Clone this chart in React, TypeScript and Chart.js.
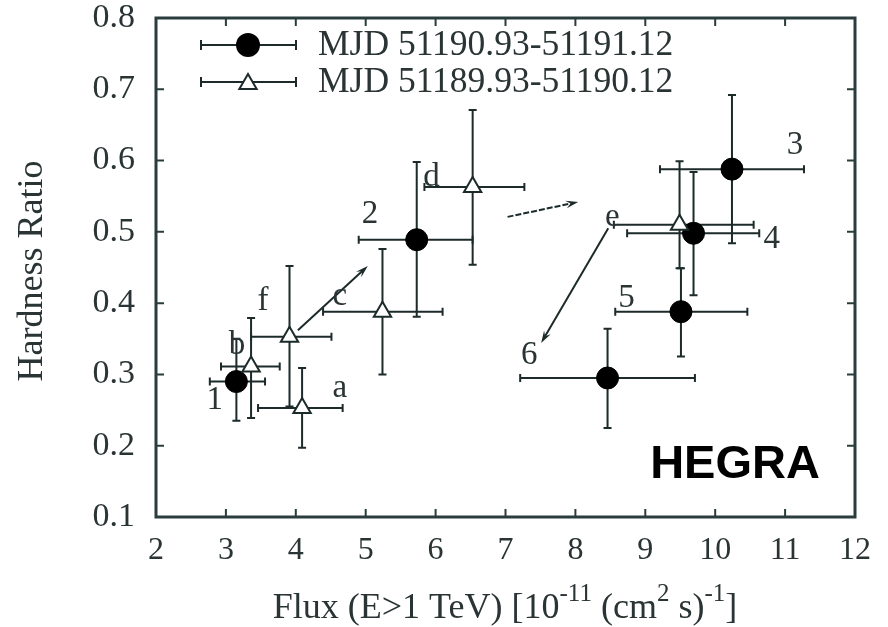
import React, { useEffect, useRef } from 'react';
import { Chart, registerables } from 'chart.js';
Chart.register(...registerables);

// Filled circles: MJD 51190.93-51191.12 (points 1..6)
const circleNames = ['1', '2', '3', '4', '5', '6'];
const circleX = [3.15, 5.73, 10.24, 9.69, 9.51, 8.46];
const circleY = [0.29, 0.489, 0.588, 0.498, 0.388, 0.295];
const circleXLo = [2.77, 4.9, 9.21, 8.74, 8.57, 7.21];
const circleXHi = [3.56, 6.53, 11.27, 10.63, 10.46, 9.71];
const circleYLo = [0.235, 0.381, 0.484, 0.411, 0.325, 0.225];
const circleYHi = [0.35, 0.598, 0.692, 0.584, 0.449, 0.364];

// Open triangles: MJD 51189.93-51190.12 (points a..f)
const triNames = ['a', 'b', 'c', 'd', 'e', 'f'];
const triX = [4.09, 3.36, 5.24, 6.53, 9.49, 3.91];
const triY = [0.253, 0.311, 0.388, 0.563, 0.51, 0.353];
const triXLo = [3.46, 2.93, 4.39, 5.84, 8.55, 3.36];
const triXHi = [4.67, 3.77, 6.1, 7.27, 10.55, 4.51];
const triYLo = [0.197, 0.239, 0.3, 0.454, 0.449, 0.255];
const triYHi = [0.309, 0.379, 0.476, 0.671, 0.599, 0.452];

// Point annotations
const labelText = ['1', 'b', 'f', 'a', 'c', '2', 'd', 'e', '3', '4', '5', '6'];
const labelX = [2.84, 3.16, 3.53, 4.63, 4.63, 5.06, 5.94, 8.53, 11.14, 10.81, 8.73, 7.34];
const labelY = [0.264, 0.341, 0.402, 0.281, 0.409, 0.524, 0.576, 0.52, 0.622, 0.489, 0.407, 0.327];

// Arrows (from -> to)
const arrowFromX = [4.03, 7.03, 8.47];
const arrowFromY = [0.362, 0.521, 0.505];
const arrowToX = [5.03, 8.04, 7.51];
const arrowToY = [0.452, 0.542, 0.344];
const arrowDashed = [false, true, false];

const legendLabels = ['MJD 51190.93-51191.12', 'MJD 51189.93-51190.12'];
const xMin = 2, xMax = 12, yMin = 0.1, yMax = 0.8;

const INK = '#1c2a2a';
const TEXT = '#2a3434';
const SERIF = '"Liberation Serif", "Times New Roman", serif';

function drawTriangle(ctx: CanvasRenderingContext2D, x: number, y: number, r: number) {
  ctx.beginPath();
  let rad = 0;
  ctx.moveTo(x + Math.sin(rad) * r, y - Math.cos(rad) * r);
  rad += (2 * Math.PI) / 3;
  ctx.lineTo(x + Math.sin(rad) * r, y - Math.cos(rad) * r);
  rad += (2 * Math.PI) / 3;
  ctx.lineTo(x + Math.sin(rad) * r, y - Math.cos(rad) * r);
  ctx.closePath();
  ctx.fillStyle = '#ffffff';
  ctx.fill();
  ctx.lineWidth = 2;
  ctx.strokeStyle = INK;
  ctx.stroke();
}

const overlay = {
  id: 'overlay',
  beforeDatasetsDraw(chart: any) {
    const { ctx, scales } = chart;
    const xs = scales.x, ys = scales.y;
    ctx.save();
    ctx.strokeStyle = INK;
    const cap = 4;
    const drawErr = (X: number[], Y: number[], XL: number[], XH: number[], YL: number[], YH: number[], lw: number) => {
      ctx.lineWidth = lw;
      for (let i = 0; i < X.length; i++) {
        const px = xs.getPixelForValue(X[i]);
        const py = ys.getPixelForValue(Y[i]);
        const x1 = xs.getPixelForValue(XL[i]);
        const x2 = xs.getPixelForValue(XH[i]);
        const y1 = ys.getPixelForValue(YL[i]);
        const y2 = ys.getPixelForValue(YH[i]);
        ctx.beginPath();
        ctx.moveTo(x1, py); ctx.lineTo(x2, py);
        ctx.moveTo(x1, py - cap); ctx.lineTo(x1, py + cap);
        ctx.moveTo(x2, py - cap); ctx.lineTo(x2, py + cap);
        ctx.moveTo(px, y1); ctx.lineTo(px, y2);
        ctx.moveTo(px - cap, y1); ctx.lineTo(px + cap, y1);
        ctx.moveTo(px - cap, y2); ctx.lineTo(px + cap, y2);
        ctx.stroke();
      }
    };
    drawErr(triX, triY, triXLo, triXHi, triYLo, triYHi, 2);
    drawErr(circleX, circleY, circleXLo, circleXHi, circleYLo, circleYHi, 2);
    ctx.restore();
  },
  afterDatasetsDraw(chart: any) {
    const { ctx, chartArea: a, scales } = chart;
    const xs = scales.x, ys = scales.y;
    ctx.save();
    // frame
    ctx.strokeStyle = '#2a3c3c';
    ctx.lineWidth = 3;
    ctx.strokeRect(a.left, a.top, a.right - a.left, a.bottom - a.top);
    // inward ticks
    ctx.lineWidth = 2;
    const tl = 8;
    ctx.beginPath();
    for (let v = xMin + 1; v < xMax; v++) {
      const px = xs.getPixelForValue(v);
      ctx.moveTo(px, a.bottom); ctx.lineTo(px, a.bottom - tl);
      ctx.moveTo(px, a.top); ctx.lineTo(px, a.top + tl);
    }
    for (let k = 2; k < 8; k++) {
      const py = ys.getPixelForValue(k / 10);
      ctx.moveTo(a.left, py); ctx.lineTo(a.left + tl, py);
      ctx.moveTo(a.right, py); ctx.lineTo(a.right - tl, py);
    }
    ctx.stroke();

    // arrows
    ctx.strokeStyle = INK;
    ctx.fillStyle = INK;
    for (let i = 0; i < arrowFromX.length; i++) {
      const x1 = xs.getPixelForValue(arrowFromX[i]);
      const y1 = ys.getPixelForValue(arrowFromY[i]);
      const x2 = xs.getPixelForValue(arrowToX[i]);
      const y2 = ys.getPixelForValue(arrowToY[i]);
      const ang = Math.atan2(y2 - y1, x2 - x1);
      const hl = 13, hw = 0.3;
      ctx.lineWidth = 2;
      ctx.setLineDash(arrowDashed[i] ? [6, 2] : []);
      ctx.beginPath();
      ctx.moveTo(x1, y1);
      ctx.lineTo(x2 - Math.cos(ang) * hl * 0.6, y2 - Math.sin(ang) * hl * 0.6);
      ctx.stroke();
      ctx.setLineDash([]);
      ctx.beginPath();
      ctx.moveTo(x2, y2);
      ctx.lineTo(x2 - hl * Math.cos(ang - hw), y2 - hl * Math.sin(ang - hw));
      ctx.lineTo(x2 - hl * 0.6 * Math.cos(ang), y2 - hl * 0.6 * Math.sin(ang));
      ctx.lineTo(x2 - hl * Math.cos(ang + hw), y2 - hl * Math.sin(ang + hw));
      ctx.closePath();
      ctx.fill();
    }

    // point labels
    ctx.fillStyle = TEXT;
    ctx.font = `33px ${SERIF}`;
    ctx.textAlign = 'center';
    ctx.textBaseline = 'middle';
    for (let i = 0; i < labelText.length; i++) {
      ctx.fillText(labelText[i], xs.getPixelForValue(labelX[i]), ys.getPixelForValue(labelY[i]));
    }

    // legend
    const rowsY = [45, 82];
    for (let r = 0; r < 2; r++) {
      const ly = rowsY[r];
      ctx.strokeStyle = INK;
      ctx.lineWidth = 2;
      ctx.beginPath();
      ctx.moveTo(201, ly); ctx.lineTo(296, ly);
      ctx.moveTo(201, ly - 5); ctx.lineTo(201, ly + 5);
      ctx.moveTo(296, ly - 5); ctx.lineTo(296, ly + 5);
      ctx.stroke();
      if (r === 0) {
        ctx.beginPath();
        ctx.arc(248, ly, 12, 0, Math.PI * 2);
        ctx.fillStyle = '#000';
        ctx.fill();
      } else {
        drawTriangle(ctx, 248, ly + 2, 10);
      }
      ctx.fillStyle = TEXT;
      ctx.font = `35.5px ${SERIF}`;
      ctx.textAlign = 'left';
      ctx.textBaseline = 'middle';
      ctx.fillText(legendLabels[r], 318, ly + 1);
    }

    // HEGRA
    ctx.fillStyle = '#000';
    ctx.font = `bold 47px "Liberation Sans", Arial, sans-serif`;
    ctx.textAlign = 'center';
    ctx.textBaseline = 'middle';
    ctx.fillText('HEGRA', 735, 465);

    // y title
    ctx.save();
    ctx.translate(33, 271);
    ctx.rotate(-Math.PI / 2);
    ctx.fillStyle = TEXT;
    ctx.font = `36px ${SERIF}`;
    ctx.textAlign = 'center';
    ctx.textBaseline = 'middle';
    ctx.fillText('Hardness Ratio', 0, 0);
    ctx.restore();

    // x title with superscripts
    const segs: { t: string; sup: boolean }[] = [
      { t: 'Flux (E>1 TeV) [10', sup: false },
      { t: '-11', sup: true },
      { t: ' (cm', sup: false },
      { t: '2', sup: true },
      { t: ' s)', sup: false },
      { t: '-1', sup: true },
      { t: ']', sup: false },
    ];
    const baseFont = `36px ${SERIF}`;
    const supFont = `25px ${SERIF}`;
    let total = 0;
    for (const s of segs) {
      ctx.font = s.sup ? supFont : baseFont;
      total += ctx.measureText(s.t).width;
    }
    let cx = 505 - total / 2;
    const baseY = 618;
    ctx.textAlign = 'left';
    ctx.textBaseline = 'alphabetic';
    ctx.fillStyle = TEXT;
    for (const s of segs) {
      ctx.font = s.sup ? supFont : baseFont;
      ctx.fillText(s.t, cx, s.sup ? baseY - 17 : baseY);
      cx += ctx.measureText(s.t).width;
    }
    ctx.restore();
  },
};

export default function App() {
  const ref = useRef<HTMLCanvasElement>(null);
  useEffect(() => {
    if (!ref.current) return;
    const chart = new Chart(ref.current, {
      type: 'scatter',
      data: {
        datasets: [
          {
            label: legendLabels[1],
            data: triX.map((x, i) => ({ x, y: triY[i] })),
            pointStyle: 'triangle',
            pointRadius: 10,
            backgroundColor: '#ffffff',
            borderColor: INK,
            borderWidth: 2,
          },
          {
            label: legendLabels[0],
            data: circleX.map((x, i) => ({ x, y: circleY[i] })),
            pointStyle: 'circle',
            pointRadius: 11,
            backgroundColor: '#000000',
            borderColor: '#000000',
            borderWidth: 1,
          },
        ],
      },
      options: {
        responsive: false,
        animation: false,
        devicePixelRatio: 1,
        layout: { padding: { top: 18, right: 33, left: 0, bottom: 0 } },
        plugins: { legend: { display: false }, tooltip: { enabled: false } },
        scales: {
          x: {
            type: 'linear',
            min: xMin,
            max: xMax,
            grid: { display: false, drawTicks: false },
            border: { display: false },
            ticks: {
              stepSize: 1,
              padding: 14,
              color: TEXT,
              font: { family: SERIF, size: 32 },
            },
            afterFit: (s: any) => {
              s.height = 110;
              s.paddingLeft = 0; s.paddingRight = 0;
            },
          },
          y: {
            type: 'linear',
            min: yMin,
            max: yMax,
            grid: { display: false, drawTicks: false },
            border: { display: false },
            ticks: {
              stepSize: 0.1,
              padding: 21,
              color: TEXT,
              font: { family: SERIF, size: 34 },
              callback: (v: any) => Number(v).toFixed(1),
            },
            afterFit: (s: any) => {
              s.width = 156;
              s.paddingTop = 0; s.paddingBottom = 0;
            },
          },
        },
      },
      plugins: [overlay],
    });
    return () => chart.destroy();
  }, []);
  return (
    <div style={{ position: 'absolute', left: 0, top: 0, width: 888, height: 627, background: '#fff' }}>
      <canvas ref={ref} width={888} height={627} />
    </div>
  );
}
